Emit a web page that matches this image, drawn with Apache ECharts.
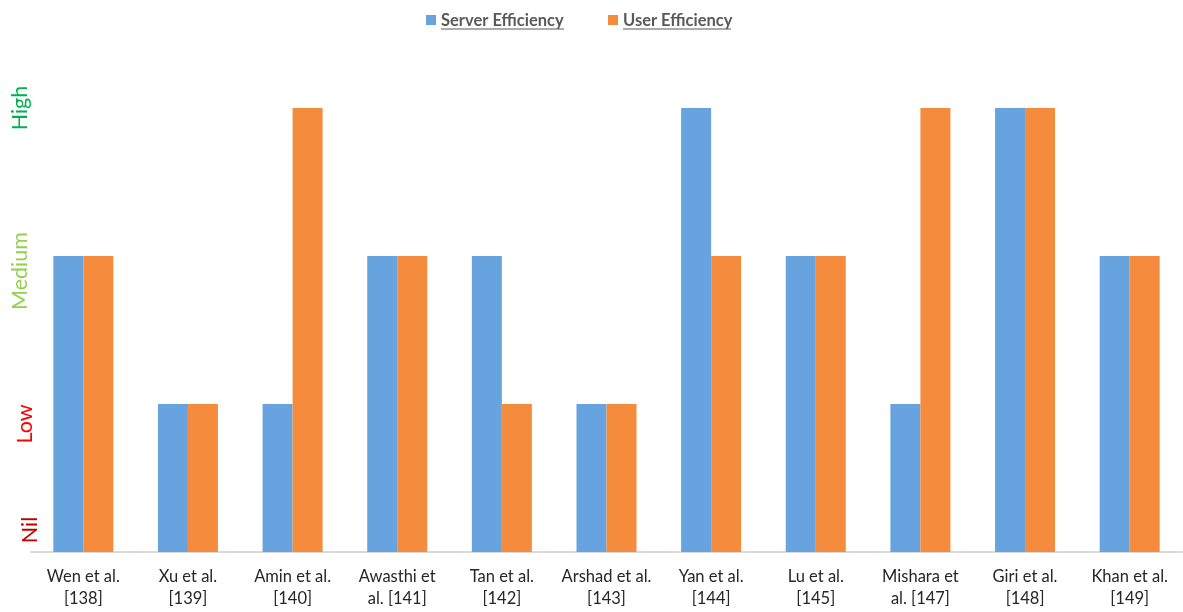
<!DOCTYPE html>
<html>
<head>
<meta charset="utf-8">
<title>Efficiency comparison</title>
<script src="https://cdn.jsdelivr.net/npm/echarts@6/dist/echarts.min.js"></script>
<style>
  html, body { margin: 0; padding: 0; background: #ffffff; }
  #chart { width: 1183px; height: 612px; }
</style>
</head>
<body>
<div id="chart"></div>
<script>
// Studies compared (two-line axis captions)
const categories = [
  'Wen et al.\n[138]', 'Xu et al.\n[139]', 'Amin et al.\n[140]', 'Awasthi et\nal. [141]',
  'Tan et al.\n[142]', 'Arshad et al.\n[143]', 'Yan et al.\n[144]', 'Lu et al.\n[145]',
  'Mishara et\nal. [147]', 'Giri et al.\n[148]', 'Khan et al.\n[149]'
];
// Efficiency level per study: 0 = Nil, 1 = Low, 2 = Medium, 3 = High
const serverEfficiency = [2, 1, 1, 2, 2, 1, 3, 2, 1, 3, 2];
const userEfficiency   = [2, 1, 3, 2, 1, 1, 2, 2, 3, 3, 2];
// Names of the levels on the value axis
const levelLabels = ['Nil', 'Low', 'Medium', 'High'];
// Series names shown in the legend
const seriesNames = ['Server Efficiency', 'User Efficiency'];

// Rotated level captions: padding nudges each caption along / across the axis
const levelStyles = {
  l0: { color: '#C00000', padding: [0, 0, 0, 44] },
  l1: { color: '#FF0000', padding: [0, 40, 5, 0] },
  l2: { color: '#92D050', padding: [0, 30, 10, 0] },
  l3: { color: '#00B050', padding: [0, 0, 10, 0] }
};
Object.keys(levelStyles).forEach(k => {
  levelStyles[k].fontSize = 21.5;
  levelStyles[k].fontFamily = 'Lato';
});

const chart = echarts.init(document.getElementById('chart'), null, { renderer: 'canvas' });

chart.setOption({
  animation: false,
  backgroundColor: '#ffffff',
  textStyle: { fontFamily: 'Lato' },
  legend: {
    top: 5,
    left: 421,
    itemWidth: 10,
    itemHeight: 10,
    itemGap: 44,
    icon: 'rect',
    data: seriesNames,
    formatter: (name) => '{t|' + name + '}\n{' + (name === seriesNames[0] ? 'u0' : 'u1') + '|}',
    textStyle: {
      rich: {
        t: { fontSize: 16.5, fontWeight: 'bold', color: '#595959', fontFamily: 'Lato', lineHeight: 18, padding: [2, 0, 0, 0] },
        u0: { width: 123, height: 1, backgroundColor: '#595959' },
        u1: { width: 108, height: 1, backgroundColor: '#595959' }
      }
    }
  },
  grid: { left: 31, right: 1, top: 108, bottom: 60, containLabel: false },
  xAxis: {
    type: 'category',
    data: categories,
    axisLine: { lineStyle: { color: '#D9D9D9', width: 2 } },
    axisTick: { show: false },
    axisLabel: {
      interval: 0,
      margin: 14,
      fontSize: 16.5,
      lineHeight: 22,
      color: '#262626',
      fontFamily: 'Lato'
    }
  },
  yAxis: {
    type: 'value',
    min: 0,
    max: 3,
    interval: 1,
    splitLine: { show: false },
    axisLine: { show: false },
    axisTick: { show: false },
    axisLabel: {
      rotate: 90,
      margin: -10,
      formatter: (v) => '{l' + v + '|' + levelLabels[v] + '}',
      rich: levelStyles
    }
  },
  series: [
    {
      name: seriesNames[0],
      type: 'bar',
      data: serverEfficiency,
      barWidth: 30,
      barGap: '0%',
      itemStyle: { color: '#67A3DF' }
    },
    {
      name: seriesNames[1],
      type: 'bar',
      data: userEfficiency,
      barWidth: 30,
      barGap: '0%',
      itemStyle: { color: '#F58B3C' }
    }
  ]
});
</script>
</body>
</html>
